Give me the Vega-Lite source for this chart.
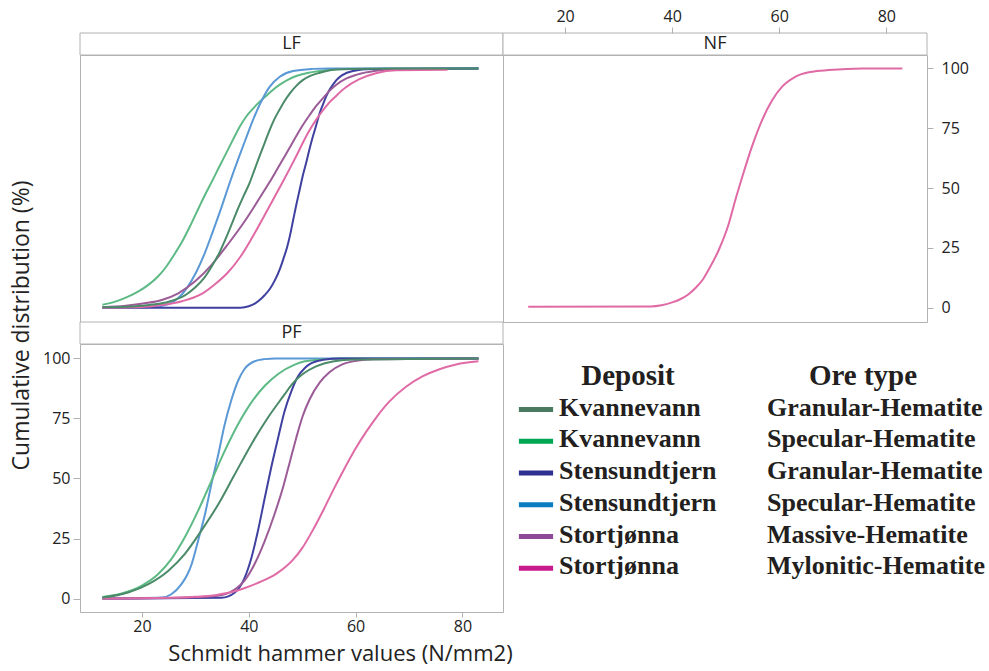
{
  "$schema": "https://vega.github.io/schema/vega-lite/v6.json",
  "padding": {"left": 10, "top": 7, "right": 0, "bottom": 0},
  "background": "white",
  "columns": 2,
  "spacing": 0,
  "bounds": "flush",
  "datasets": {
    "LF": [
      {"s":"KS","x":12.6,"y":1.2},{"s":"KS","x":15,"y":2.5},{"s":"KS","x":17.4,"y":4.6},{"s":"KS","x":19.5,"y":7},{"s":"KS","x":21.2,"y":9.5},{"s":"KS","x":23,"y":13},{"s":"KS","x":24.5,"y":17},{"s":"KS","x":26,"y":22},{"s":"KS","x":27.5,"y":27.5},{"s":"KS","x":29,"y":34},{"s":"KS","x":30.8,"y":42.5},{"s":"KS","x":32,"y":48},{"s":"KS","x":33.3,"y":53.6},{"s":"KS","x":34.5,"y":59},{"s":"KS","x":35.8,"y":64.7},{"s":"KS","x":37,"y":70},{"s":"KS","x":38.3,"y":75.6},{"s":"KS","x":39.5,"y":79.8},{"s":"KS","x":40.8,"y":83.2},{"s":"KS","x":42,"y":86},{"s":"KS","x":43.3,"y":88.6},{"s":"KS","x":44.5,"y":91},{"s":"KS","x":45.8,"y":93.2},{"s":"KS","x":47.3,"y":95.2},{"s":"KS","x":48.9,"y":96.8},{"s":"KS","x":51,"y":98.1},{"s":"KS","x":53.3,"y":98.9},{"s":"KS","x":57,"y":99.7},{"s":"KS","x":83,"y":100},
      {"s":"SS","x":12.6,"y":0},{"s":"SS","x":22,"y":0.3},{"s":"SS","x":25,"y":1.5},{"s":"SS","x":26.8,"y":4},{"s":"SS","x":28.5,"y":8.5},{"s":"SS","x":30.2,"y":15},{"s":"SS","x":31.8,"y":23},{"s":"SS","x":33.3,"y":32},{"s":"SS","x":34.9,"y":42},{"s":"SS","x":36.4,"y":52},{"s":"SS","x":38,"y":62},{"s":"SS","x":39.6,"y":71.5},{"s":"SS","x":40.8,"y":78.5},{"s":"SS","x":42.4,"y":86.5},{"s":"SS","x":43.9,"y":92.3},{"s":"SS","x":45.8,"y":96.5},{"s":"SS","x":48.3,"y":98.9},{"s":"SS","x":52,"y":99.8},{"s":"SS","x":55,"y":100},{"s":"SS","x":83,"y":100},
      {"s":"SG","x":12.6,"y":0},{"s":"SG","x":38.5,"y":0},{"s":"SG","x":40,"y":0.6},{"s":"SG","x":41.2,"y":1.8},{"s":"SG","x":42.2,"y":3.5},{"s":"SG","x":43,"y":5.3},{"s":"SG","x":44,"y":8},{"s":"SG","x":44.9,"y":11.5},{"s":"SG","x":45.8,"y":16},{"s":"SG","x":46.5,"y":20.5},{"s":"SG","x":47.2,"y":25.5},{"s":"SG","x":47.7,"y":30},{"s":"SG","x":48.3,"y":36.5},{"s":"SG","x":48.9,"y":43},{"s":"SG","x":49.5,"y":49},{"s":"SG","x":50.1,"y":55},{"s":"SG","x":50.8,"y":61},{"s":"SG","x":51.4,"y":66.5},{"s":"SG","x":52,"y":71.5},{"s":"SG","x":52.6,"y":76},{"s":"SG","x":53.2,"y":80.8},{"s":"SG","x":53.9,"y":85},{"s":"SG","x":54.5,"y":88.3},{"s":"SG","x":55.1,"y":91},{"s":"SG","x":55.8,"y":93.3},{"s":"SG","x":56.4,"y":95.1},{"s":"SG","x":57.5,"y":97.2},{"s":"SG","x":59.5,"y":98.9},{"s":"SG","x":63,"y":99.7},{"s":"SG","x":83,"y":100},
      {"s":"SM","x":12.6,"y":0.2},{"s":"SM","x":17,"y":0.8},{"s":"SM","x":20.5,"y":1.8},{"s":"SM","x":23.7,"y":3.2},{"s":"SM","x":26.8,"y":6},{"s":"SM","x":29.9,"y":10.9},{"s":"SM","x":33,"y":17.8},{"s":"SM","x":36.1,"y":26.5},{"s":"SM","x":39.2,"y":36},{"s":"SM","x":41.1,"y":42.5},{"s":"SM","x":42.5,"y":47.5},{"s":"SM","x":43.9,"y":52.5},{"s":"SM","x":45.2,"y":57.4},{"s":"SM","x":46.4,"y":62},{"s":"SM","x":47.7,"y":67},{"s":"SM","x":48.9,"y":71.7},{"s":"SM","x":50.1,"y":76.2},{"s":"SM","x":51.4,"y":80.5},{"s":"SM","x":52.6,"y":84.2},{"s":"SM","x":53.9,"y":87.6},{"s":"SM","x":55.1,"y":90.6},{"s":"SM","x":56.4,"y":93.2},{"s":"SM","x":58.2,"y":95.7},{"s":"SM","x":60.1,"y":97.3},{"s":"SM","x":63.8,"y":99},{"s":"SM","x":67.6,"y":99.6},{"s":"SM","x":77.2,"y":99.7},
      {"s":"SY","x":12.6,"y":0},{"s":"SY","x":20,"y":0.3},{"s":"SY","x":24,"y":1.2},{"s":"SY","x":27.5,"y":2.7},{"s":"SY","x":31,"y":5.5},{"s":"SY","x":33.5,"y":9.5},{"s":"SY","x":36,"y":14.5},{"s":"SY","x":38.5,"y":21.5},{"s":"SY","x":41.2,"y":31.5},{"s":"SY","x":43.9,"y":42.5},{"s":"SY","x":45.2,"y":47.8},{"s":"SY","x":46.4,"y":52.7},{"s":"SY","x":47.7,"y":58.2},{"s":"SY","x":48.9,"y":63.4},{"s":"SY","x":50.1,"y":68.8},{"s":"SY","x":51.4,"y":74.2},{"s":"SY","x":52.6,"y":78.5},{"s":"SY","x":53.9,"y":82.5},{"s":"SY","x":55.1,"y":85.8},{"s":"SY","x":56.4,"y":88.6},{"s":"SY","x":58,"y":91.8},{"s":"SY","x":60.7,"y":95.5},{"s":"SY","x":63.8,"y":98},{"s":"SY","x":67.6,"y":99.2},{"s":"SY","x":77.2,"y":99.4},
      {"s":"KG","x":12.6,"y":0.2},{"s":"KG","x":18,"y":0.5},{"s":"KG","x":22,"y":1.3},{"s":"KG","x":25,"y":2.5},{"s":"KG","x":28.3,"y":5.5},{"s":"KG","x":30,"y":8.5},{"s":"KG","x":31.5,"y":12},{"s":"KG","x":33,"y":17},{"s":"KG","x":34.5,"y":23},{"s":"KG","x":36,"y":30.5},{"s":"KG","x":37,"y":36},{"s":"KG","x":38,"y":41.5},{"s":"KG","x":39.1,"y":47},{"s":"KG","x":40.2,"y":52.4},{"s":"KG","x":41.1,"y":57.8},{"s":"KG","x":42,"y":63.2},{"s":"KG","x":43,"y":69},{"s":"KG","x":43.9,"y":74.2},{"s":"KG","x":44.8,"y":78.8},{"s":"KG","x":45.8,"y":82.9},{"s":"KG","x":46.7,"y":86.4},{"s":"KG","x":47.7,"y":89.6},{"s":"KG","x":48.9,"y":92.7},{"s":"KG","x":50.1,"y":95.1},{"s":"KG","x":51.5,"y":96.9},{"s":"KG","x":53.3,"y":98.2},{"s":"KG","x":56.4,"y":99.5},{"s":"KG","x":62,"y":99.9},{"s":"KG","x":83,"y":100}
    ],
    "NF": [
      {"s":"SY","x":13.1,"y":0.4},{"s":"SY","x":36,"y":0.5},{"s":"SY","x":38,"y":1},{"s":"SY","x":40,"y":2.2},{"s":"SY","x":41.5,"y":3.5},{"s":"SY","x":43,"y":5.5},{"s":"SY","x":44.5,"y":8.5},{"s":"SY","x":45.8,"y":12},{"s":"SY","x":46.8,"y":15.8},{"s":"SY","x":48.7,"y":24.1},{"s":"SY","x":50.6,"y":35.3},{"s":"SY","x":51.8,"y":45},{"s":"SY","x":53.1,"y":54.7},{"s":"SY","x":54.9,"y":67.3},{"s":"SY","x":56.8,"y":78.4},{"s":"SY","x":58.7,"y":86.8},{"s":"SY","x":60.5,"y":92.3},{"s":"SY","x":63,"y":96.5},{"s":"SY","x":66.1,"y":98.6},{"s":"SY","x":69.2,"y":99.3},{"s":"SY","x":75.4,"y":100},{"s":"SY","x":83,"y":100}
    ],
    "PF": [
      {"s":"SS","x":12.6,"y":0},{"s":"SS","x":23.7,"y":0.4},{"s":"SS","x":25.5,"y":1.8},{"s":"SS","x":27.4,"y":6},{"s":"SS","x":28.5,"y":10},{"s":"SS","x":29.3,"y":14.3},{"s":"SS","x":30.5,"y":24},{"s":"SS","x":31.8,"y":35.1},{"s":"SS","x":33,"y":47.6},{"s":"SS","x":34.3,"y":60.1},{"s":"SS","x":35.5,"y":72.6},{"s":"SS","x":36.7,"y":82.4},{"s":"SS","x":38,"y":90.7},{"s":"SS","x":39.2,"y":95.6},{"s":"SS","x":41.1,"y":98.8},{"s":"SS","x":43,"y":99.7},{"s":"SS","x":45,"y":100},{"s":"SS","x":83,"y":100},
      {"s":"KS","x":12.6,"y":0.7},{"s":"KS","x":16.2,"y":2.1},{"s":"KS","x":19.9,"y":5.3},{"s":"KS","x":23,"y":10.1},{"s":"KS","x":25.5,"y":16.4},{"s":"KS","x":28,"y":25.4},{"s":"KS","x":30.5,"y":36.5},{"s":"KS","x":33,"y":49},{"s":"KS","x":35.5,"y":61.5},{"s":"KS","x":38,"y":72.6},{"s":"KS","x":40.5,"y":81.7},{"s":"KS","x":43,"y":88.6},{"s":"KS","x":45.5,"y":93.5},{"s":"KS","x":48.6,"y":97.4},{"s":"KS","x":50.5,"y":98.8},{"s":"KS","x":54,"y":99.6},{"s":"KS","x":58,"y":100},{"s":"KS","x":83,"y":100},
      {"s":"SG","x":12.6,"y":0},{"s":"SG","x":34.9,"y":0.3},{"s":"SG","x":37.4,"y":2.5},{"s":"SG","x":39.2,"y":8.5},{"s":"SG","x":40.5,"y":17},{"s":"SG","x":41.7,"y":28},{"s":"SG","x":43,"y":42},{"s":"SG","x":44.2,"y":54.6},{"s":"SG","x":45.5,"y":67},{"s":"SG","x":46.7,"y":78},{"s":"SG","x":48,"y":86.5},{"s":"SG","x":49.2,"y":92.5},{"s":"SG","x":50.5,"y":96},{"s":"SG","x":51.4,"y":97.6},{"s":"SG","x":53.9,"y":99.4},{"s":"SG","x":57,"y":100},{"s":"SG","x":83,"y":100},
      {"s":"SM","x":12.6,"y":0},{"s":"SM","x":25,"y":0.2},{"s":"SM","x":30,"y":0.5},{"s":"SM","x":35,"y":1.5},{"s":"SM","x":37.5,"y":4},{"s":"SM","x":39.2,"y":7.5},{"s":"SM","x":41,"y":14},{"s":"SM","x":43,"y":24},{"s":"SM","x":44.8,"y":35},{"s":"SM","x":46.5,"y":47},{"s":"SM","x":47.7,"y":57},{"s":"SM","x":48.9,"y":67},{"s":"SM","x":50.1,"y":76},{"s":"SM","x":51.4,"y":83},{"s":"SM","x":53.3,"y":90},{"s":"SM","x":55.1,"y":94.2},{"s":"SM","x":57.6,"y":97.6},{"s":"SM","x":60.1,"y":99},{"s":"SM","x":63.2,"y":99.7},{"s":"SM","x":83,"y":100},
      {"s":"SY","x":12.6,"y":0},{"s":"SY","x":25,"y":0.3},{"s":"SY","x":30,"y":0.7},{"s":"SY","x":34,"y":1.5},{"s":"SY","x":37,"y":2.8},{"s":"SY","x":39,"y":4.2},{"s":"SY","x":42.1,"y":6.9},{"s":"SY","x":45.2,"y":10.4},{"s":"SY","x":46.8,"y":13},{"s":"SY","x":48.3,"y":16.2},{"s":"SY","x":50,"y":21},{"s":"SY","x":52,"y":28.5},{"s":"SY","x":54,"y":37},{"s":"SY","x":56,"y":46},{"s":"SY","x":58,"y":54.5},{"s":"SY","x":60,"y":62.5},{"s":"SY","x":62,"y":69.5},{"s":"SY","x":64,"y":75.8},{"s":"SY","x":66.3,"y":82},{"s":"SY","x":69.5,"y":88.3},{"s":"SY","x":72.6,"y":92.6},{"s":"SY","x":75.7,"y":95.5},{"s":"SY","x":78.8,"y":97.5},{"s":"SY","x":83,"y":98.8},
      {"s":"KG","x":12.6,"y":0.4},{"s":"KG","x":17.4,"y":2.5},{"s":"KG","x":21.2,"y":6},{"s":"KG","x":24.9,"y":11.5},{"s":"KG","x":28,"y":18.5},{"s":"KG","x":31.1,"y":28.2},{"s":"KG","x":34.3,"y":39.3},{"s":"KG","x":37.2,"y":51},{"s":"KG","x":40.5,"y":64.3},{"s":"KG","x":43.6,"y":75.4},{"s":"KG","x":46.7,"y":85},{"s":"KG","x":48,"y":89},{"s":"KG","x":50.1,"y":93.5},{"s":"KG","x":52.6,"y":96.7},{"s":"KG","x":55.7,"y":98.7},{"s":"KG","x":60.1,"y":99.5},{"s":"KG","x":83,"y":100}
    ],
    "legend": [
      {"s":"KG","deposit":"Kvannevann","ore":"Granular-Hematite"},
      {"s":"KS","deposit":"Kvannevann","ore":"Specular-Hematite"},
      {"s":"SG","deposit":"Stensundtjern","ore":"Granular-Hematite"},
      {"s":"SS","deposit":"Stensundtjern","ore":"Specular-Hematite"},
      {"s":"SM","deposit":"Stortjønna","ore":"Massive-Hematite"},
      {"s":"SY","deposit":"Stortjønna","ore":"Mylonitic-Hematite"}
    ]
  },
  "concat": [
    {
      "width": 423, "height": 22,
      "data": {"values": [{"label": "LF"}]},
      "layer": [
        {"mark": {"type": "rect", "fill": "white", "stroke": "#b2b2b2", "strokeWidth": 1}, "encoding": {}},
        {"mark": {"type": "text", "align": "center", "baseline": "middle", "font": "Open Sans", "fontSize": 18, "color": "#222222"}, "encoding": {"text": {"field": "label"}}}
      ]
    },
    {
      "width": 424, "height": 22,
      "data": {"values": [{"label": "NF"}]},
      "layer": [
        {"mark": {"type": "rect", "fill": "white", "stroke": "#b2b2b2", "strokeWidth": 1}, "encoding": {}},
        {"mark": {"type": "text", "align": "center", "baseline": "middle", "font": "Open Sans", "fontSize": 18, "color": "#222222"}, "encoding": {"text": {"field": "label"}}}
      ]
    },
    {
      "width": 423, "height": 267,
      "data": {"name": "LF"},
      "mark": {"type": "line", "strokeWidth": 2, "interpolate": "monotone"},
      "encoding": {
        "x": {"field": "x", "type": "quantitative", "scale": {"domain": [8.4, 87.6], "nice": false, "zero": false}, "axis": null},
        "y": {"field": "y", "type": "quantitative", "scale": {"domain": [-6, 105.6], "nice": false, "zero": false}, "axis": null},
        "color": {"field": "s", "type": "nominal", "scale": {"domain": ["KG","KS","SG","SS","SM","SY"], "range": ["#4a8a68","#5dba85","#3f40a0","#5a98d6","#9b5b97","#e06aa5"]}, "legend": null}
      }
    },
    {
      "width": 424, "height": 267,
      "data": {"name": "NF"},
      "mark": {"type": "line", "strokeWidth": 2, "interpolate": "monotone"},
      "encoding": {
        "x": {"field": "x", "type": "quantitative", "scale": {"domain": [8.4, 87.6], "nice": false, "zero": false},
              "axis": {"orient": "top", "offset": 22, "values": [20, 40, 60, 80], "title": null, "tickSize": 6, "labelPadding": 3}},
        "y": {"field": "y", "type": "quantitative", "scale": {"domain": [-6, 105.6], "nice": false, "zero": false},
              "axis": {"orient": "right", "values": [0, 25, 50, 75, 100], "title": null, "tickSize": 6, "labelPadding": 8}},
        "color": {"field": "s", "type": "nominal", "scale": {"domain": ["KG","KS","SG","SS","SM","SY"], "range": ["#4a8a68","#5dba85","#3f40a0","#5a98d6","#9b5b97","#e06aa5"]}, "legend": null}
      }
    },
    {
      "width": 423, "height": 22,
      "data": {"values": [{"label": "PF"}]},
      "layer": [
        {"mark": {"type": "rect", "fill": "white", "stroke": "#b2b2b2", "strokeWidth": 1}, "encoding": {}},
        {"mark": {"type": "text", "align": "center", "baseline": "middle", "font": "Open Sans", "fontSize": 18, "color": "#222222"}, "encoding": {"text": {"field": "label"}}}
      ]
    },
    {
      "width": 1, "height": 22,
      "view": {"stroke": null},
      "data": {"values": []},
      "mark": {"type": "point"},
      "encoding": {}
    },
    {
      "width": 423, "height": 268,
      "data": {"name": "PF"},
      "mark": {"type": "line", "strokeWidth": 2, "interpolate": "monotone"},
      "encoding": {
        "x": {"field": "x", "type": "quantitative", "scale": {"domain": [8.4, 87.6], "nice": false, "zero": false},
              "axis": {"values": [20, 40, 60, 80], "title": "Schmidt hammer values (N/mm2)", "tickSize": 5, "labelPadding": 1, "titlePadding": 9, "titleX": 260}},
        "y": {"field": "y", "type": "quantitative", "scale": {"domain": [-5.6, 106], "nice": false, "zero": false},
              "axis": {"values": [0, 25, 50, 75, 100], "title": "Cumulative distribution (%)", "titleFontSize": 23, "tickSize": 7, "labelPadding": 3, "titlePadding": 9, "titleY": -19}},
        "color": {"field": "s", "type": "nominal", "scale": {"domain": ["KG","KS","SG","SS","SM","SY"], "range": ["#4a8a68","#5dba85","#3f40a0","#5a98d6","#9b5b97","#e06aa5"]}, "legend": null}
      }
    },
    {
      "width": 320, "height": 254,
      "view": {"stroke": null},
      "layer": [
        {
          "data": {"name": "legend"},
          "mark": {"type": "point", "shape": "M-1,0H1", "size": 1170, "strokeWidth": 5, "filled": false, "opacity": 1, "xOffset": -23, "yOffset": 2},
          "encoding": {
            "x": {"datum": "Deposit", "type": "nominal", "scale": {"type": "point", "domain": ["Deposit", "Ore type"], "padding": 0.2692}, "axis": null},
            "y": {"field": "s", "type": "nominal", "scale": {"type": "point", "domain": ["header","KG","KS","SG","SS","SM","SY"], "padding": 1.12}, "axis": null},
            "stroke": {"field": "s", "type": "nominal", "scale": {"domain": ["KG","KS","SG","SS","SM","SY"], "range": ["#4a7a5f","#00a651","#2e3192","#0a7cc1","#8d4a96","#c8198c"]}, "legend": null}
          }
        },
        {
          "data": {"name": "legend"},
          "mark": {"type": "text", "align": "left", "baseline": "middle", "font": "Liberation Serif", "fontWeight": "bold", "fontSize": 26, "color": "#231f20"},
          "encoding": {
            "x": {"datum": "Deposit", "type": "nominal"},
            "y": {"field": "s", "type": "nominal"},
            "text": {"field": "deposit"}
          }
        },
        {
          "data": {"name": "legend"},
          "mark": {"type": "text", "align": "left", "baseline": "middle", "font": "Liberation Serif", "fontWeight": "bold", "fontSize": 26, "color": "#231f20"},
          "encoding": {
            "x": {"datum": "Ore type", "type": "nominal"},
            "y": {"field": "s", "type": "nominal"},
            "text": {"field": "ore"}
          }
        },
        {
          "data": {"values": [{"h": "Deposit"}]},
          "mark": {"type": "text", "align": "center", "baseline": "middle", "font": "Liberation Serif", "fontWeight": "bold", "fontSize": 29, "color": "#231f20", "dx": 69},
          "encoding": {
            "x": {"datum": "Deposit", "type": "nominal"},
            "y": {"datum": "header", "type": "nominal"},
            "text": {"field": "h"}
          }
        },
        {
          "data": {"values": [{"h": "Ore type"}]},
          "mark": {"type": "text", "align": "center", "baseline": "middle", "font": "Liberation Serif", "fontWeight": "bold", "fontSize": 29, "color": "#231f20", "dx": 96},
          "encoding": {
            "x": {"datum": "Ore type", "type": "nominal"},
            "y": {"datum": "header", "type": "nominal"},
            "text": {"field": "h"}
          }
        }
      ]
    }
  ],
  "config": {
    "font": "Open Sans",
    "view": {"stroke": "#b2b2b2", "strokeWidth": 1},
    "axis": {
      "domain": false, "grid": false,
      "tickColor": "#b2b2b2", "tickWidth": 1,
      "labelFont": "Open Sans", "labelFontSize": 16, "labelColor": "#222222",
      "titleFont": "Open Sans", "titleFontSize": 22, "titleFontWeight": "normal", "titleColor": "#222222"
    }
  }
}
